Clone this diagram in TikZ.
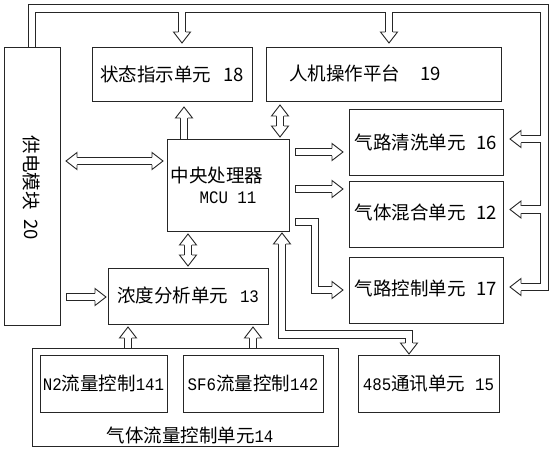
\documentclass[tikz,border=0pt]{standalone}
\usepackage{fontspec}
\setmainfont{Noto Sans CJK SC}
\newfontfamily\mono{Liberation Mono}[Scale=0.95,FakeStretch=0.9]
\usetikzlibrary{calc}
\pgfdeclarelayer{back}
\pgfdeclarelayer{bg}
\pgfsetlayers{back,bg,main}
\newcommand\PH{3.75}
\newcommand\HW{8.5}
\newcommand\HL{11}
\newcommand\ahead[2]{\begin{scope}[shift={#1},rotate=#2]\filldraw[ln,fill=white,line join=miter](-\HL,\PH)--(-\HL,\HW)--(0,0)--(-\HL,-\HW)--(-\HL,-\PH);\end{scope}}
\newcommand\atail[2]{\begin{scope}[shift={#1},rotate=#2]\draw[ln,line cap=rect](0,\PH)--(0,-\PH);\end{scope}}
\begin{document}
\begin{tikzpicture}[x=1pt,y=-1pt,
  ln/.style={draw=black!85,line width=0.9pt},
  box/.style={ln,rectangle,inner sep=0pt,outer sep=0pt,anchor=north west},
  pipe/.style={draw=black!85,line width=0.9pt,double=white,double distance=6.6pt,line join=miter},
  lbl/.style={inner sep=0pt},
  font=\fontsize{18.5}{21}\selectfont]
\useasboundingbox (0,0) rectangle (552,450);
\begin{pgfonlayer}{back}
\fill[white] (0,0) rectangle (552,450);
\end{pgfonlayer}

% boxes
\node[box,minimum width=56,minimum height=278] (pw) at (4,47) {};
\node[box,minimum width=160,minimum height=54] (n18) at (92,47) {};
\node[lbl] at (n18.center) {状态指示单元\hspace{12pt}18};
\node[box,minimum width=235,minimum height=54] (n19) at (266,47) {};
\node[box,minimum width=122,minimum height=92] (mcu) at (167,139) {};
\node[box,minimum width=154,minimum height=66] (n16) at (349,109) {};
\node[box,minimum width=154,minimum height=66] (n12) at (349,181) {};
\node[box,minimum width=154,minimum height=66] (n17) at (349,257) {};
\node[box,minimum width=160,minimum height=56] (n13) at (108,268) {};
\node[box,minimum width=306,minimum height=98] (n14) at (32,348) {};
\node[box,minimum width=127,minimum height=57] (n141) at (40,355) {};
\node[box,minimum width=140,minimum height=57] (n142) at (183,355) {};
\node[box,minimum width=141,minimum height=57] (n15) at (358,355) {};

% texts
\node[lbl,rotate=-90] (t20) at ($(pw.center)+(0,2)$) {供电模块\hspace{10pt}20};
\node[lbl] (t19) at ($(n19.center)+(-18.5,-1)$) {人机操作平台\hspace{20pt}19};
\node[lbl] (tm1) at ($(mcu.north west)+(50,36)$) {中央处理器};
\node[lbl] (tm2) at ($(mcu.north west)+(61,59)$) {\mono MCU 11};
\node[lbl] at (n16.center) {气路清洗单元\hspace{11pt}16};
\node[lbl] at ($(n12.center)+(0,-2)$) {气体混合单元\hspace{11pt}12};
\node[lbl] at ($(n17.center)+(0,-2)$) {气路控制单元\hspace{11pt}17};
\node[lbl] at ($(n13.center)+(0,-1)$) {浓度分析单元\hspace{12pt}{\mono 13}};
\node[lbl] at (n141.center) {{\mono N2}流量控制{\mono 141}};
\node[lbl] at (n142.center) {{\mono SF6}流量控制{\mono 142}};
\node[lbl] at (n15.center) {{\mono 485}通讯单元\hspace{10pt}{\mono 15}};
\node[lbl] (t14) at ($(n14.south)+(5,-11)$) {气体流量控制单元{\mono 14}};

% connector coordinates
\coordinate (bus) at (544.5,8.5);
\coordinate (t18) at ($(n18.north)+(10,-4)$);
\coordinate (t19) at ($(n19.north)+(5.5,-4)$);
\coordinate (t16) at ($(n16.east)+(7,-3)$);
\coordinate (t12) at ($(n12.east)+(7,-4.5)$);
\coordinate (t17) at ($(n17.east)+(7,-3)$);
\coordinate (a1) at ($(pw.north east)+(6,114)$);
\coordinate (a2) at ($(mcu.north west)+(-4,22)$);
\coordinate (c1) at ($(n18.south)+(12,6)$);
\coordinate (d1) at ($(mcu.north east)+(-9,-34)$);
\coordinate (d2) at ($(mcu.north east)+(-9,-2)$);
\coordinate (e2) at ($(n13.north)+(0,-2)$);
\coordinate (e1) at ($(e2 |- mcu.south)+(0,3)$);
\coordinate (f1) at ($(mcu.north east)+(6,13)$);
\coordinate (f2) at ($(n16.west |- f1)+(-6,0)$);
\coordinate (g1) at ($(mcu.north east)+(6,50)$);
\coordinate (g2) at ($(n12.west |- g1)+(-6,0)$);
\coordinate (h1) at ($(mcu.north east)+(6,83)$);
\coordinate (h2) at ($(n17.west)+(-6,0)$);
\coordinate (i1) at ($(mcu.south east)+(-7,2)$);
\coordinate (i2) at ($(n15.north)+(-19.5,-1)$);
\coordinate (j2) at ($(n13.west)+(-2,1)$);
\coordinate (j1) at ($(pw.east |- j2)+(6,0)$);
\coordinate (k1) at ($(n13.south west)+(20,3)$);
\coordinate (l1) at ($(n13.south east)+(-15,3)$);

\begin{pgfonlayer}{bg}
% power supply line
\draw[pipe] (pw.north) -- (pw.north |- bus) -- (bus) -- (bus |- t17) -- ($(t17)+(\HL,0)$)
  (t18 |- bus) -- ($(t18)+(0,-\HL)$)
  (t19 |- bus) -- ($(t19)+(0,-\HL)$)
  (bus |- t16) -- ($(t16)+(\HL,0)$)
  (bus |- t12) -- ($(t12)+(\HL,0)$);
\ahead{(t18)}{-90}\ahead{(t19)}{-90}
\ahead{(t16)}{180}\ahead{(t12)}{180}\ahead{(t17)}{180}
% power <-> MCU
\draw[pipe] ($(a1)+(\HL,0)$) -- ($(a2)+(-\HL,0)$);
\ahead{(a1)}{180}\ahead{(a2)}{0}
% MCU -> 18
\draw[pipe] (c1 |- mcu.north) -- ($(c1)+(0,\HL)$);
\ahead{(c1)}{90}
% 19 <-> MCU
\draw[pipe] ($(d1)+(0,\HL)$) -- ($(d2)+(0,-\HL)$);
\ahead{(d1)}{90}\ahead{(d2)}{-90}
% MCU <-> 13
\draw[pipe] ($(e1)+(0,\HL)$) -- ($(e2)+(0,-\HL)$);
\ahead{(e1)}{90}\ahead{(e2)}{-90}
% MCU -> 16, 12
\draw[pipe] (f1) -- ($(f2)+(-\HL,0)$);
\atail{(f1)}{0}\ahead{(f2)}{0}
\draw[pipe] (g1) -- ($(g2)+(-\HL,0)$);
\atail{(g1)}{0}\ahead{(g2)}{0}
% MCU -> 17
\draw[pipe] (h1) -- ++(20,0) |- ($(h2)+(-\HL,0)$);
\atail{(h1)}{0}\ahead{(h2)}{0}
% MCU <-> 15
\draw[pipe] ($(i1)+(0,\HL)$) -- ($(i1)+(0,101.5)$) -| ($(i2)+(0,-\HL)$);
\ahead{(i1)}{90}\ahead{(i2)}{-90}
% power -> 13
\draw[pipe] (j1) -- ($(j2)+(-\HL,0)$);
\atail{(j1)}{0}\ahead{(j2)}{0}
% 14 -> 13
\draw[pipe] (k1 |- n14.north) -- ($(k1)+(0,\HL)$);
\ahead{(k1)}{90}
\draw[pipe] (l1 |- n14.north) -- ($(l1)+(0,\HL)$);
\ahead{(l1)}{90}
\end{pgfonlayer}
\end{tikzpicture}
\end{document}
